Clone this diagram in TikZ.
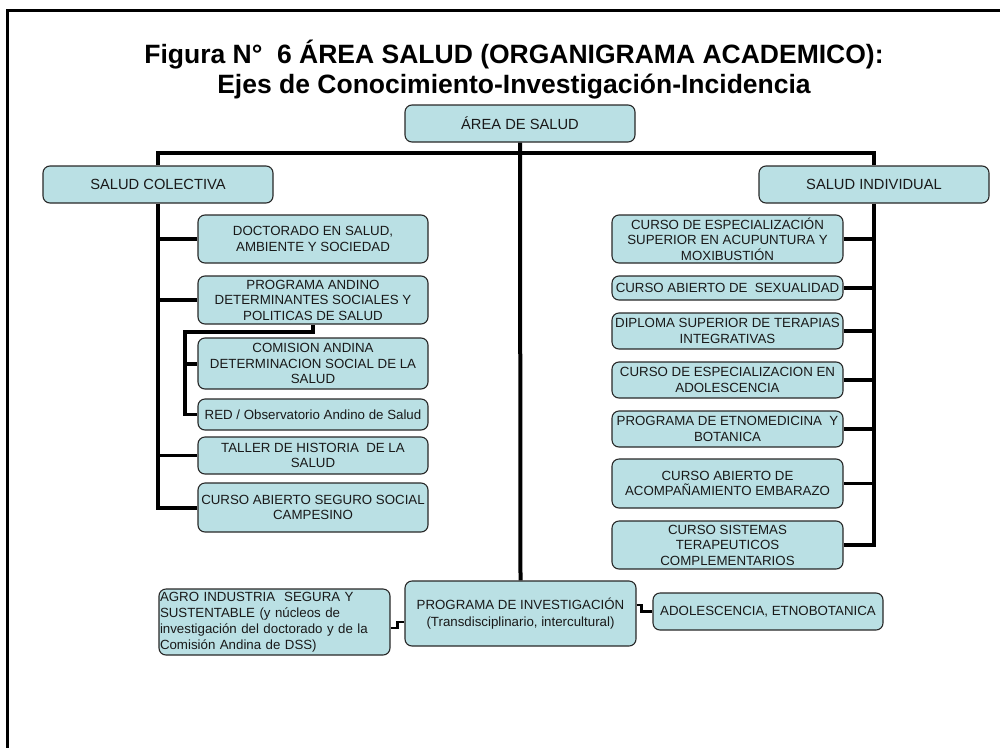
\documentclass[tikz,border=0pt]{standalone}
\usepackage{fontspec}
\setmainfont{Liberation Sans}
\definecolor{boxfill}{RGB}{186,224,228}
\definecolor{boxline}{RGB}{40,40,40}
\definecolor{txt}{RGB}{25,25,25}
\begin{document}
\begin{tikzpicture}[x=1pt,y=-1pt,
  box/.style={draw=boxline, fill=boxfill, rounded corners=7pt, line width=1.1pt,
    inner sep=0pt, align=center, text=txt, font=\fontsize{13.3}{15.5}\selectfont},
  topbox/.style={box, minimum width=230pt, minimum height=37pt, font=\fontsize{14.7}{17}\selectfont},
  lbox/.style={box, minimum width=230pt},
  rbox/.style={box, minimum width=231pt},
  conn/.style={line width=3.4pt, black},
  trunk/.style={line width=4pt, black},
  thinconn/.style={line width=2.4pt, black},
  titletext/.style={font=\fontsize{26.5}{31}\selectfont\bfseries, text=black, inner sep=0pt}]
\useasboundingbox (0,0) rectangle (1000,747);
% frame
\draw[line width=3pt] (7,760) -- (7,10.5) -- (1010,10.5);
% title
\node[titletext, anchor=base] (t1) at (514,63) {Figura N°~~6 ÁREA SALUD (ORGANIGRAMA ACADEMICO):};
\node[titletext, anchor=base] (t2) at (514,93.5) {Ejes de Conocimiento-Investigación-Incidencia};
% top level
\node[topbox] (area) at (520,123.5) {ÁREA DE SALUD};
\node[topbox] (sc) at (158,184.5) {SALUD COLECTIVA};
\node[topbox] (si) at (874,184.5) {SALUD INDIVIDUAL};
% left children
\node[lbox, minimum height=48pt] (doc) at (313,239) {DOCTORADO EN SALUD,\\AMBIENTE Y SOCIEDAD};
\node[lbox, minimum height=48pt] (pad) at (313,300) {PROGRAMA ANDINO\\DETERMINANTES SOCIALES Y\\POLITICAS DE SALUD};
\node[lbox, minimum height=51pt] (com) at (313,363.5) {COMISION ANDINA\\DETERMINACION SOCIAL DE LA\\SALUD};
\node[lbox, minimum height=31pt] (red) at (313,414.5) {RED / Observatorio Andino de Salud};
\node[lbox, minimum height=37pt] (tal) at (313,455.5) {TALLER DE HISTORIA~~DE LA\\SALUD};
\node[lbox, minimum height=49pt] (cas) at (313,507.5) {CURSO ABIERTO SEGURO SOCIAL\\CAMPESINO};
% right children
\node[rbox, minimum height=48pt] (ces) at (727.5,239) {CURSO DE ESPECIALIZACIÓN\\SUPERIOR EN ACUPUNTURA Y\\MOXIBUSTIÓN};
\node[rbox, minimum height=24pt] (sex) at (727.5,288) {CURSO ABIERTO DE~~SEXUALIDAD};
\node[rbox, minimum height=36pt] (dip) at (727.5,331) {DIPLOMA SUPERIOR DE TERAPIAS\\INTEGRATIVAS};
\node[rbox, minimum height=36pt] (cea) at (727.5,380) {CURSO DE ESPECIALIZACION EN\\ADOLESCENCIA};
\node[rbox, minimum height=36pt] (etn) at (727.5,429) {PROGRAMA DE ETNOMEDICINA~~Y\\BOTANICA};
\node[rbox, minimum height=49pt] (emb) at (727.5,483.5) {CURSO ABIERTO DE\\ACOMPAÑAMIENTO EMBARAZO};
\node[rbox, minimum height=48pt] (cst) at (727.5,545) {CURSO SISTEMAS\\TERAPEUTICOS\\COMPLEMENTARIOS};
% bottom
\node[rbox, minimum height=65pt, font=\fontsize{13.3}{17}\selectfont] (pinv) at (520.5,613.5) {PROGRAMA DE INVESTIGACIÓN\\(Transdisciplinario, intercultural)};
\node[box, align=left, text width=229pt, inner xsep=1pt, minimum height=66pt, font=\fontsize{13.3}{16}\selectfont] (agro) at (274.5,622) {AGRO INDUSTRIA~~SEGURA Y\\SUSTENTABLE (y núcleos de\\investigación del doctorado y de la\\Comisión Andina de DSS)};
\node[lbox, minimum height=37pt] (adol) at (768,611.5) {ADOLESCENCIA, ETNOBOTANICA};
% connectors
\coordinate (hbar) at (520,153);
\coordinate (subx) at (185,332);
\draw[conn] (sc.north) |- (hbar) -| (si.north);
\draw[trunk] (area.south) -- (pinv.north);
\draw[trunk] (sc.south) |- (cas.west);
\draw[conn] (sc.south |- doc.west) -- (doc.west);
\draw[conn] (sc.south |- pad.west) -- (pad.west);
\draw[conn] (sc.south |- tal.west) -- (tal.west);
\draw[conn] (pad.south) |- (subx) |- (red.west);
\draw[trunk] (subx |- com.west) -- (com.west);
\draw[trunk] (si.south) |- (cst.east);
\draw[conn] (si.south |- ces.east) -- (ces.east);
\draw[conn] (si.south |- sex.east) -- (sex.east);
\draw[conn] (si.south |- dip.east) -- (dip.east);
\draw[conn] (si.south |- cea.east) -- (cea.east);
\draw[conn] (si.south |- etn.east) -- (etn.east);
\draw[conn] (si.south |- emb.east) -- (emb.east);
\draw[thinconn] ([yshift=-6pt]agro.east) -- ++(7,0) |- ([yshift=-8.5pt]pinv.west);
\draw[thinconn] ([yshift=8.5pt]pinv.east) -- ++(5,0) |- (adol.west);
\end{tikzpicture}
\end{document}
